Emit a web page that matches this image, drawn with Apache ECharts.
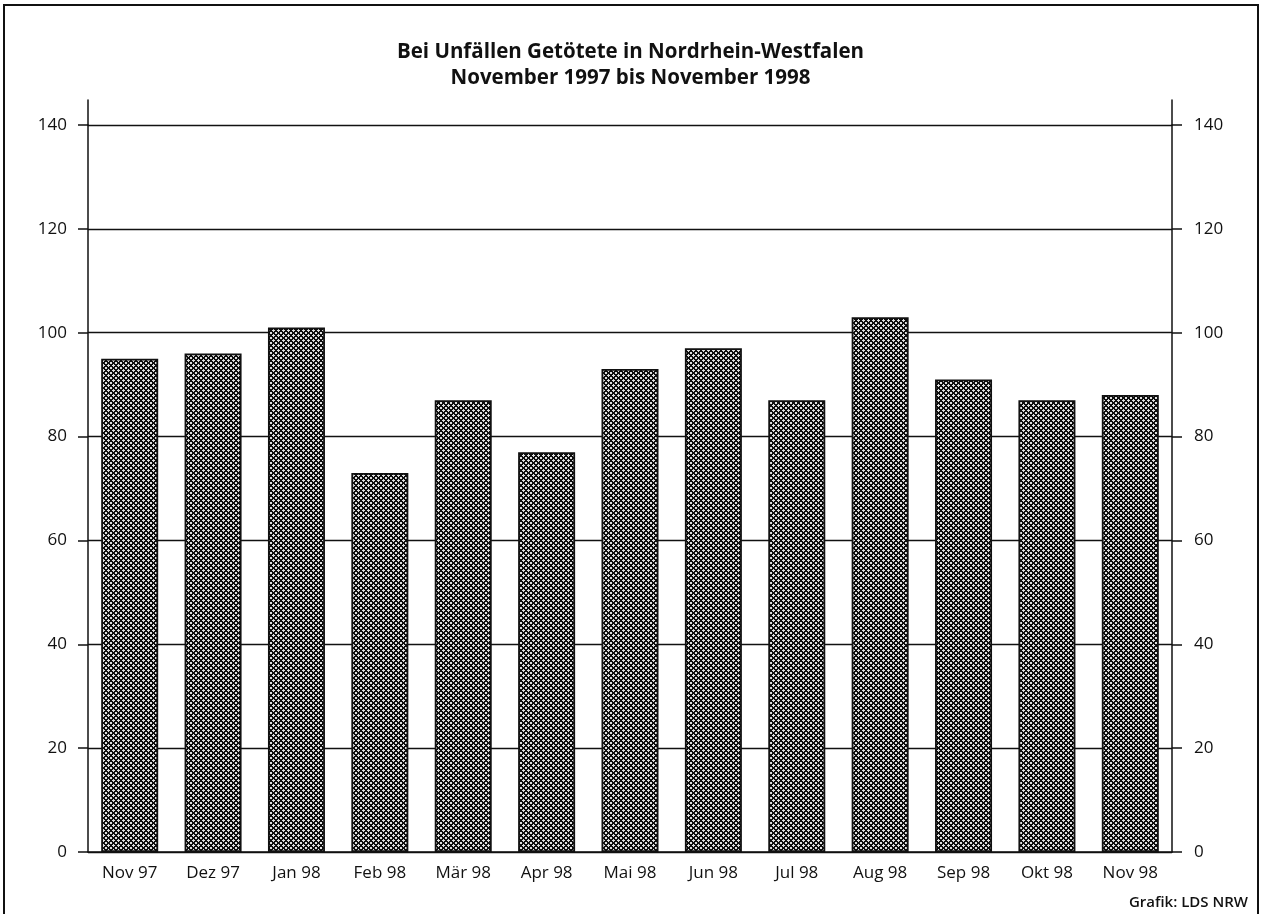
<!DOCTYPE html>
<html>
<head>
<meta charset="utf-8">
<script src="https://cdn.jsdelivr.net/npm/echarts@6/dist/echarts.min.js"></script>
<style>
  html, body { margin: 0; padding: 0; background: #fff; }
  #frame {
    position: absolute; left: 3px; top: 4px; width: 1252px; height: 920px;
    border-top: 2px solid #111; border-left: 2px solid #111; border-right: 2px solid #111;
  }
  #chart { position: absolute; left: 0; top: 0; width: 1261px; height: 914px; }
</style>
</head>
<body>
<div id="frame"></div>
<div id="chart"></div>
<script>
var months = ['Nov 97', 'Dez 97', 'Jan 98', 'Feb 98', 'Mär 98', 'Apr 98', 'Mai 98',
  'Jun 98', 'Jul 98', 'Aug 98', 'Sep 98', 'Okt 98', 'Nov 98'];
var getoetete = [95, 96, 101, 73, 87, 77, 93, 97, 87, 103, 91, 87, 88];

var titleLines = ['Bei Unfällen Getötete in Nordrhein-Westfalen', 'November 1997 bis November 1998'];
var source = 'Grafik: LDS NRW';

var FONT = '"Open Sans", "Noto Sans", sans-serif';

// Kreuzschraffur als Kachel (diagonales Schachbrett)
function hatch() {
  var n = 5;
  var c = document.createElement('canvas');
  c.width = n; c.height = n;
  var g = c.getContext('2d');
  var img = g.createImageData(n, n);
  for (var y = 0; y < n; y++) {
    for (var x = 0; x < n; x++) {
      var dark = ((x + y) % n) < 2 || ((x - y + n) % n) < 2;
      var v = dark ? 15 : 225;
      var k = (y * n + x) * 4;
      img.data[k] = v; img.data[k + 1] = v; img.data[k + 2] = v; img.data[k + 3] = 255;
    }
  }
  g.putImageData(img, 0, 0);
  return c;
}

var myChart = echarts.init(document.getElementById('chart'));

var axisY = function(pos) {
  return {
    type: 'value',
    gridIndex: 0,
    position: pos,
    min: 0,
    max: 140,
    interval: 20,
    axisLine: { show: true, lineStyle: { color: '#111', width: 1.5 } },
    axisTick: { show: true, length: 10, lineStyle: { color: '#111', width: 1.5 } },
    axisLabel: { fontFamily: FONT, fontSize: 17, fontWeight: 500, color: '#111', margin: pos == 'left' ? 21 : 22 },
    splitLine: { show: pos == 'left', lineStyle: { color: '#111', width: 1.3 } }
  };
};

var option = {
  backgroundColor: 'transparent',
  animation: false,
  title: [{
    text: titleLines.join('\n'),
    left: 'center',
    top: 34,
    textStyle: { fontFamily: FONT, fontSize: 20.5, fontWeight: 'bold', color: '#111', lineHeight: 26 }
  }, {
    text: source,
    right: 8,
    top: 890,
    textStyle: { fontFamily: FONT, fontSize: 15, fontWeight: 600, color: '#111' }
  }],
  grid: [
    { left: 88, right: 89, top: 125, bottom: 62 },
    { left: 88, right: 89, top: 100, height: 25 }
  ],
  xAxis: [{
    type: 'category',
    gridIndex: 0,
    data: months,
    axisLine: { show: true, lineStyle: { color: '#111', width: 1.5 } },
    axisTick: { show: false },
    axisLabel: { fontFamily: FONT, fontSize: 17, fontWeight: 500, color: '#111', margin: 13 }
  }, {
    type: 'value',
    gridIndex: 1,
    show: false
  }],
  yAxis: [
    axisY('left'),
    axisY('right'),
    {
      type: 'value', gridIndex: 1, position: 'left', min: 0, max: 1,
      axisLine: { show: true, lineStyle: { color: '#111', width: 1.5 } },
      axisTick: { show: false }, axisLabel: { show: false }, splitLine: { show: false }
    },
    {
      type: 'value', gridIndex: 1, position: 'right', min: 0, max: 1,
      axisLine: { show: true, lineStyle: { color: '#111', width: 1.5 } },
      axisTick: { show: false }, axisLabel: { show: false }, splitLine: { show: false }
    }
  ],
  series: [{
    name: 'Getötete',
    type: 'bar',
    xAxisIndex: 0,
    yAxisIndex: 0,
    data: getoetete,
    barWidth: 57,
    itemStyle: {
      color: { image: hatch(), repeat: 'repeat' },
      borderColor: '#111',
      borderWidth: 1.8
    }
  }]
};

myChart.setOption(option);
</script>
</body>
</html>
